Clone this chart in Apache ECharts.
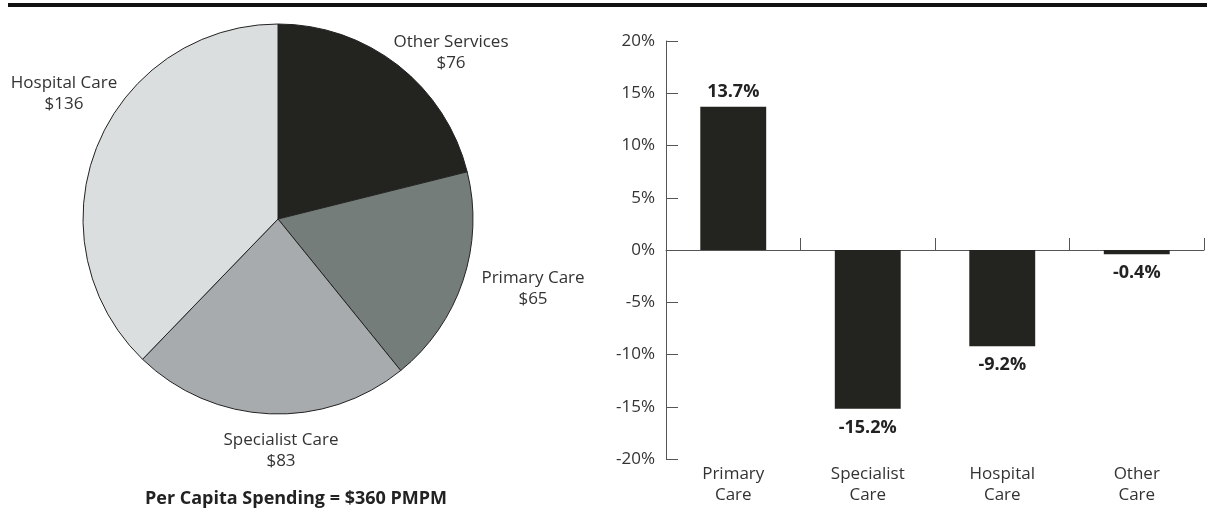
<!DOCTYPE html>
<html>
<head>
<meta charset="utf-8">
<script src="https://cdn.jsdelivr.net/npm/echarts@6/dist/echarts.min.js"></script>
<style>
  html, body { margin: 0; padding: 0; background: #fff; }
  #main { width: 1207px; height: 512px; }
</style>
</head>
<body>
<div id="main"></div>
<script>
// pie: monthly spending per capita
var pieNames = ['Other Services', 'Primary Care', 'Specialist Care', 'Hospital Care'];
var pieValues = [76, 65, 83, 136];
var pieColors = ['#23241f', '#757d7a', '#a7abad', '#dbdedf'];

// bars: change by type of care
var barCats = ['Primary\nCare', 'Specialist\nCare', 'Hospital\nCare', 'Other\nCare'];
var barValues = [13.7, -15.2, -9.2, -0.4];

var footer = 'Per Capita Spending = $360 PMPM';

var FONT = '"Open Sans", "Noto Sans", sans-serif';

// where each pie label sits (hand placed, like the original)
var pieLabelPos = [[451, 53], [533, 289], [281, 451], [64, 94]];

var chart = echarts.init(document.getElementById('main'));

var pieData = pieNames.map(function (n, i) {
    return { name: n, value: pieValues[i], itemStyle: { color: pieColors[i] } };
});

var barData = barValues.map(function (v) {
    return {
        value: v,
        label: { position: v < 0 ? 'bottom' : 'top', distance: v < 0 ? 10 : 6 }
    };
});

var option = {
    animation: false,
    textStyle: { fontFamily: FONT },
    graphic: [
        { type: 'rect', shape: { x: 8, y: 3, width: 1199, height: 4 }, style: { fill: '#111' } },
        {
            type: 'text', x: 296, y: 499,
            style: {
                text: footer, fill: '#222', font: 'bold 18px ' + FONT,
                textAlign: 'center', textVerticalAlign: 'middle'
            }
        }
    ],
    grid: { left: 666, right: 3, top: 41, bottom: 53 },
    xAxis: [
        {
            type: 'category',
            data: barCats,
            position: 'bottom',
            axisLine: { onZero: true, lineStyle: { color: '#555', width: 1 } },
            axisTick: { show: true, inside: true, length: 12, lineStyle: { color: '#555' } },
            axisLabel: { show: false }
        },
        {
            type: 'category',
            data: barCats,
            position: 'bottom',
            axisLine: { show: false },
            axisTick: { show: false },
            axisLabel: { color: '#333', fontSize: 17, lineHeight: 21, margin: 5, fontFamily: FONT }
        }
    ],
    yAxis: {
        type: 'value',
        min: -20, max: 20, interval: 5,
        axisLine: { show: true, lineStyle: { color: '#555', width: 1 } },
        axisTick: { show: true, inside: true, length: 12, lineStyle: { color: '#555' } },
        splitLine: { show: false },
        axisLabel: { formatter: '{value}%', color: '#333', fontSize: 17, margin: 11, fontFamily: FONT }
    },
    series: [
        {
            type: 'pie',
            center: [278, 219],
            radius: 195,
            startAngle: 90,
            clockwise: true,
            data: pieData,
            itemStyle: { borderColor: '#222', borderWidth: 1 },
            emphasis: { disabled: true },
            label: {
                show: true,
                position: 'outside',
                formatter: '{b}\n${c}',
                color: '#333',
                fontSize: 17,
                lineHeight: 21,
                align: 'center',
                overflow: 'none',
                fontFamily: FONT
            },
            labelLine: { show: false },
            labelLayout: function (p) {
                var pos = pieLabelPos[p.dataIndex];
                return { x: pos[0], y: pos[1], align: 'center', verticalAlign: 'middle', width: 200 };
            }
        },
        {
            type: 'bar',
            xAxisIndex: 0,
            data: barData,
            barWidth: '49%',
            itemStyle: { color: '#23241f' },
            label: {
                show: true,
                formatter: '{c}%',
                color: '#222',
                fontSize: 18,
                fontWeight: 'bold',
                fontFamily: FONT
            }
        }
    ]
};

chart.setOption(option);
</script>
</body>
</html>
